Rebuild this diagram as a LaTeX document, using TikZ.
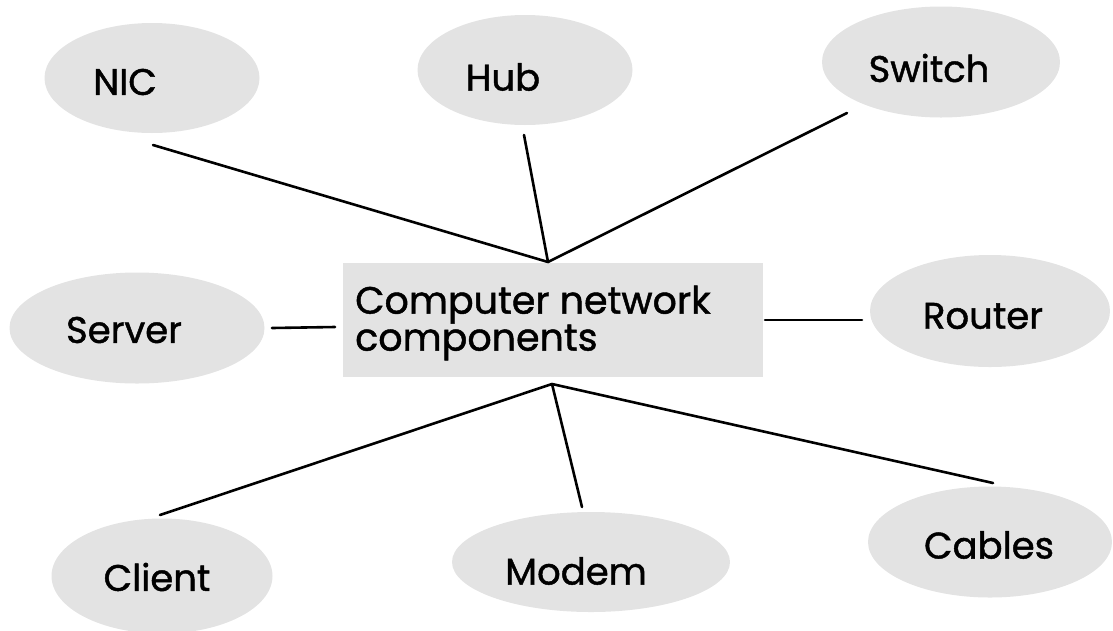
\documentclass[tikz,border=0pt]{standalone}
\usepackage{fontspec}
\setmainfont{Poppins}[BoldFont=Poppins, BoldFeatures={FakeBold=1.2}]
\usetikzlibrary{shapes.geometric}
\tikzset{
  blob/.style={ellipse, fill=black!11, draw=none},
  lbl/.style={font=\fontsize{37}{44}\selectfont\bfseries, inner sep=0pt, anchor=center},
  link/.style={line width=2.6pt, line cap=round}
}
\begin{document}
\begin{tikzpicture}[x=1pt,y=-1pt]
\useasboundingbox (0,0) rectangle (1113,630);
% ellipses
\node[blob, minimum width=215pt, minimum height=110pt] (nicE) at (152,78) {};
\node[blob, minimum width=215pt, minimum height=110pt] (hubE) at (525,70) {};
\node[blob, minimum width=238pt, minimum height=111pt] (swE) at (941,62) {};
\node[blob, minimum width=255pt, minimum height=111pt] (srvE) at (137,328) {};
\node[blob, minimum width=240pt, minimum height=112pt] (rtE) at (990,311) {};
\node[blob, minimum width=221pt, minimum height=115pt] (clE) at (162,576) {};
\node[blob, minimum width=278pt, minimum height=100pt] (mdE) at (591,562) {};
\node[blob, minimum width=244pt, minimum height=111pt] (cbE) at (990,542) {};
\node[fill=black!11, minimum width=420pt, minimum height=114pt, inner sep=0pt] (cbox) at (553,320) {};
% labels
\node[lbl] (nic) at (125,82) {NIC};
\node[lbl] (hub) at (503,77) {Hub};
\node[lbl] (sw) at (929,68) {Switch};
\node[lbl] (srv) at (124,330) {Server};
\node[lbl] (rt) at (983,316) {Router};
\node[lbl] (cl) at (157,577) {Client};
\node[lbl] (md) at (576,571) {Modem};
\node[lbl] (cb) at (989,545) {Cables};
\node[lbl, anchor=west, align=left, font=\fontsize{38}{35}\selectfont\bfseries] (title) at (355,323) {Computer network\\components};
% connector ends
\coordinate (top) at (548,262);
\coordinate (bot) at (552,384);
\coordinate (nicA) at (153,145);
\coordinate (hubA) at (524,135);
\coordinate (swA) at (847,113);
\coordinate (srvA) at (272,328);
\coordinate (srvB) at (335,327);
\coordinate (rtA) at (765,320);
\coordinate (rtB) at (862,320);
\coordinate (clA) at (160,515);
\coordinate (mdA) at (582,507);
\coordinate (cbA) at (993,483);
\draw[link] (nicA) -- (top);
\draw[link] (hubA) -- (top);
\draw[link] (swA) -- (top);
\draw[link] (srvA) -- (srvB);
\draw[link] (rtA) -- (rtB);
\draw[link] (clA) -- (bot);
\draw[link] (mdA) -- (bot);
\draw[link] (cbA) -- (bot);
\end{tikzpicture}
\end{document}
